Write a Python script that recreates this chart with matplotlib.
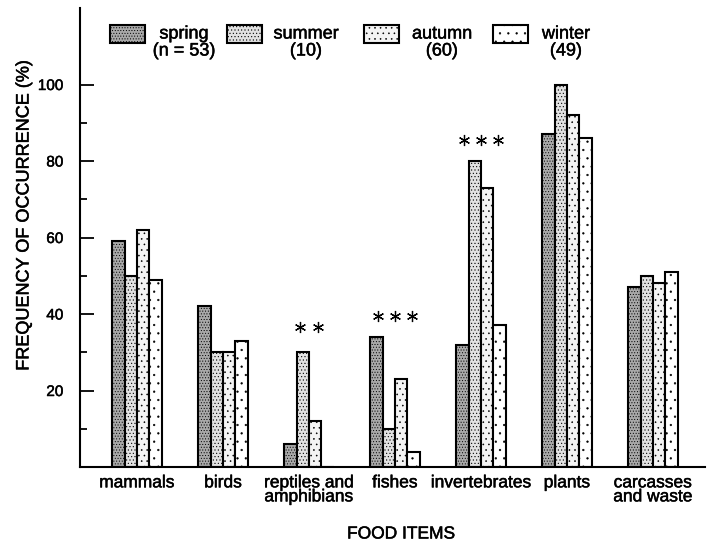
import numpy as np
import matplotlib.pyplot as plt
import matplotlib.patheffects as pe
from matplotlib.patches import Rectangle
from matplotlib.ticker import FixedLocator

plt.rcParams['font.family'] = ['Liberation Sans', 'DejaVu Sans']
plt.rcParams['hatch.linewidth'] = 0.4

# food items and seasonal frequency of occurrence (%)
items = ['mammals', 'birds', 'reptiles and\namphibians', 'fishes',
         'invertebrates', 'plants', 'carcasses\nand waste']
seasons = ['spring', 'summer', 'autumn', 'winter']
sample_sizes = ['(n = 53)', '(10)', '(60)', '(49)']
spring = [59, 42, 6, 34, 32, 87, 47]
summer = [50, 30, 30, 10, 80, 100, 50]
autumn = [62, 30, 12, 23, 73, 92, 48]
winter = [49, 33, 0, 4, 37, 86, 51]

# significance stars: (item index, number of stars, height)
stars = [(2, 2, 36.5), (3, 3, 39.5), (4, 3, 85.5)]

faces = ['#a9a9a9', '#e2e2e2', '#f4f4f4', 'white']
hatches = ['......', '.....', '...', '..']

# slightly heavier print for all text
heavy = [pe.withStroke(linewidth=0.35, foreground='black')]

fig = plt.figure(figsize=(7.11, 5.49), dpi=100)
ax = fig.add_axes([80 / 711, 1 - 467 / 549, 625 / 711, 459 / 549])

x = np.arange(len(items))
w = 0.145
for j, vals in enumerate([spring, summer, autumn, winter]):
    ax.bar(x + (j - 1.5) * w, vals, w, facecolor=faces[j], hatch=hatches[j],
           edgecolor='black', linewidth=1.5, zorder=2)

for i, n, h in stars:
    sx = x[i] + (np.arange(n) - (n - 1) / 2) * 0.2
    ax.plot(sx, [h] * n, linestyle='none', marker=(6, 2, 0), markersize=8,
            markeredgewidth=0.9, color='black')

ax.set_xlim(-0.663, 6.605)
ax.set_ylim(0, 120)
ax.yaxis.set_major_locator(FixedLocator([20, 40, 60, 80, 100]))
ax.yaxis.set_minor_locator(FixedLocator([10, 30, 50, 70, 90]))
ax.tick_params(axis='y', which='major', direction='in', length=10, width=1.3,
               pad=12, labelsize=11)
ax.tick_params(axis='y', which='minor', direction='in', length=5, width=1.3)
ax.set_xticks(x)
ax.set_xticklabels(items, fontsize=12.5, linespacing=0.92, va='top')
ax.tick_params(axis='x', length=0, pad=6)
for t in ax.get_xticklabels() + ax.get_yticklabels():
    t.set_path_effects(heavy)

for s in ['top', 'right']:
    ax.spines[s].set_visible(False)
ax.spines['left'].set_linewidth(1.5)
ax.spines['bottom'].set_linewidth(1.5)

fig.text(24 / 711, 1 - 216 / 549, 'FREQUENCY OF OCCURRENCE (%)', rotation=90,
         ha='center', va='center', fontsize=13, path_effects=heavy)
fig.text(401 / 711, 1 - 534 / 549, 'FOOD ITEMS', ha='center', va='center',
         fontsize=12.5, path_effects=heavy)

# legend boxes and labels along the top
box_x = [110, 227, 364, 493]
text_x = [184, 306, 442, 566]
for j in range(4):
    bx = (box_x[j] - 80) / 625
    by = (467 - 43) / 459
    ax.add_patch(Rectangle((bx, by), 35 / 625, 18 / 459, transform=ax.transAxes,
                           facecolor=faces[j], hatch=hatches[j],
                           edgecolor='black', linewidth=1.5, clip_on=False))
    tx = (text_x[j] - 80) / 625
    ax.text(tx, (467 - 34) / 459, seasons[j], transform=ax.transAxes,
            ha='center', va='center', fontsize=13, path_effects=heavy)
    ax.text(tx, (467 - 51) / 459, sample_sizes[j], transform=ax.transAxes,
            ha='center', va='center', fontsize=13, path_effects=heavy)

fig.savefig('out.png', dpi=100)
